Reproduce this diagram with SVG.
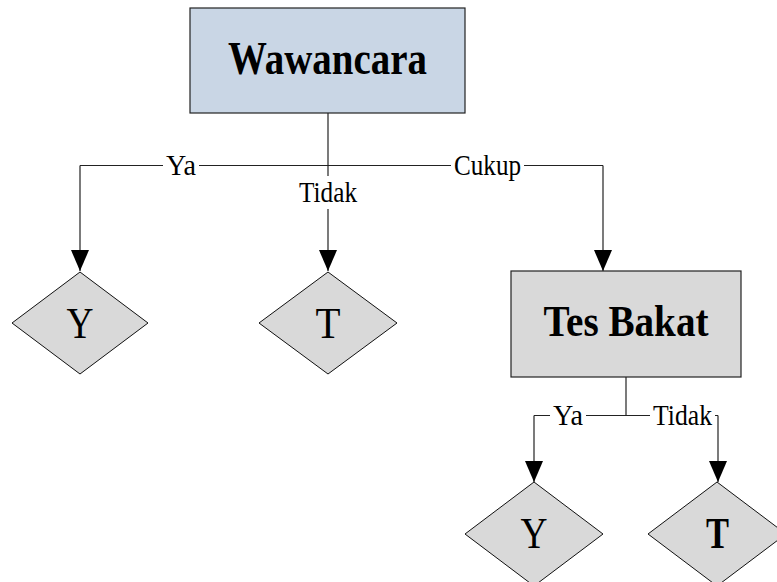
<svg xmlns="http://www.w3.org/2000/svg" width="777" height="582" viewBox="0 0 777 582">
  <defs>
    <marker id="arrow" viewBox="0 0 21 18" refX="21" refY="9" markerWidth="21" markerHeight="18" markerUnits="userSpaceOnUse" orient="auto">
      <path d="M0,0 L21,9 L0,18 z" fill="#000"/>
    </marker>
    <style>
      .box { fill: #d9d9d9; stroke: #222; stroke-width: 1.2; }
      .box-blue { fill: #c9d6e5; stroke: #222; stroke-width: 1.2; }
      .dia { fill: #d9d9d9; stroke: #111; stroke-width: 1; }
      .title { font-family: "Liberation Serif", "Times New Roman", serif; font-weight: bold; fill: #000; text-anchor: middle; }
      .letter { font-family: "Liberation Serif", "Times New Roman", serif; font-size: 44px; fill: #000; text-anchor: middle; }
      .lbl { font-family: "Liberation Serif", "Times New Roman", serif; font-size: 29px; fill: #000; text-anchor: middle; }
      .wire { fill: none; stroke: #222; stroke-width: 1.2; }
      .bg { fill: #fff; }
    </style>
  </defs>

  <!-- connectors -->
  <g id="connectors">
    <path class="wire" d="M80,165.5 H603"/>
    <path class="wire" d="M328,113 V271" marker-end="url(#arrow)"/>
    <path class="wire" d="M80,165.5 V271" marker-end="url(#arrow)"/>
    <path class="wire" d="M603,165.5 V271" marker-end="url(#arrow)"/>
    <path class="wire" d="M626,377 V415.5"/>
    <path class="wire" d="M534,415.5 H718"/>
    <path class="wire" d="M534,415.5 V482" marker-end="url(#arrow)"/>
    <path class="wire" d="M718,415.5 V482" marker-end="url(#arrow)"/>

    <!-- edge labels -->
    <rect class="bg" x="163" y="155" width="36" height="22"/>
    <text class="lbl" x="181" y="175" textLength="30" lengthAdjust="spacingAndGlyphs">Ya</text>
    <rect class="bg" x="297" y="176" width="62" height="33"/>
    <text class="lbl" x="328" y="202" textLength="58" lengthAdjust="spacingAndGlyphs">Tidak</text>
    <rect class="bg" x="451" y="155" width="73" height="22"/>
    <text class="lbl" x="487.5" y="175" textLength="67" lengthAdjust="spacingAndGlyphs">Cukup</text>
    <rect class="bg" x="550" y="405" width="36" height="22"/>
    <text class="lbl" x="568" y="425" textLength="30" lengthAdjust="spacingAndGlyphs">Ya</text>
    <rect class="bg" x="650" y="405" width="65" height="22"/>
    <text class="lbl" x="682.5" y="425" textLength="59" lengthAdjust="spacingAndGlyphs">Tidak</text>
  </g>

  <!-- Wawancara -->
  <g id="wawancara">
    <rect class="box-blue" x="190" y="8" width="275" height="105"/>
    <text class="title" x="327.5" y="74" font-size="47" textLength="199" lengthAdjust="spacingAndGlyphs">Wawancara</text>
  </g>

  <!-- outcome Y (top left) -->
  <g id="hasil-y1">
    <polygon class="dia" points="80,272 148,323 80,374 12,323"/>
    <text class="letter" x="80" y="338" textLength="27" lengthAdjust="spacingAndGlyphs">Y</text>
  </g>

  <!-- outcome T (top middle) -->
  <g id="hasil-t1">
    <polygon class="dia" points="328,272 397,323 328,374 259,323"/>
    <text class="letter" x="328" y="338" textLength="25" lengthAdjust="spacingAndGlyphs">T</text>
  </g>

  <!-- Tes Bakat -->
  <g id="tes-bakat">
    <rect class="box" x="511" y="271" width="230" height="106"/>
    <text class="title" x="626" y="336" font-size="44" textLength="165" lengthAdjust="spacingAndGlyphs">Tes Bakat</text>
  </g>

  <!-- outcome Y (bottom) -->
  <g id="hasil-y2">
    <polygon class="dia" points="534,482 603,534 534,586 465,534"/>
    <text class="letter" x="534" y="548" textLength="27" lengthAdjust="spacingAndGlyphs">Y</text>
  </g>

  <!-- outcome T (bottom, bold) -->
  <g id="hasil-t2">
    <polygon class="dia" points="717,482 786,534 717,586 648,534"/>
    <text class="letter" x="717.5" y="548" font-weight="bold" textLength="23" lengthAdjust="spacingAndGlyphs">T</text>
  </g>
</svg>
